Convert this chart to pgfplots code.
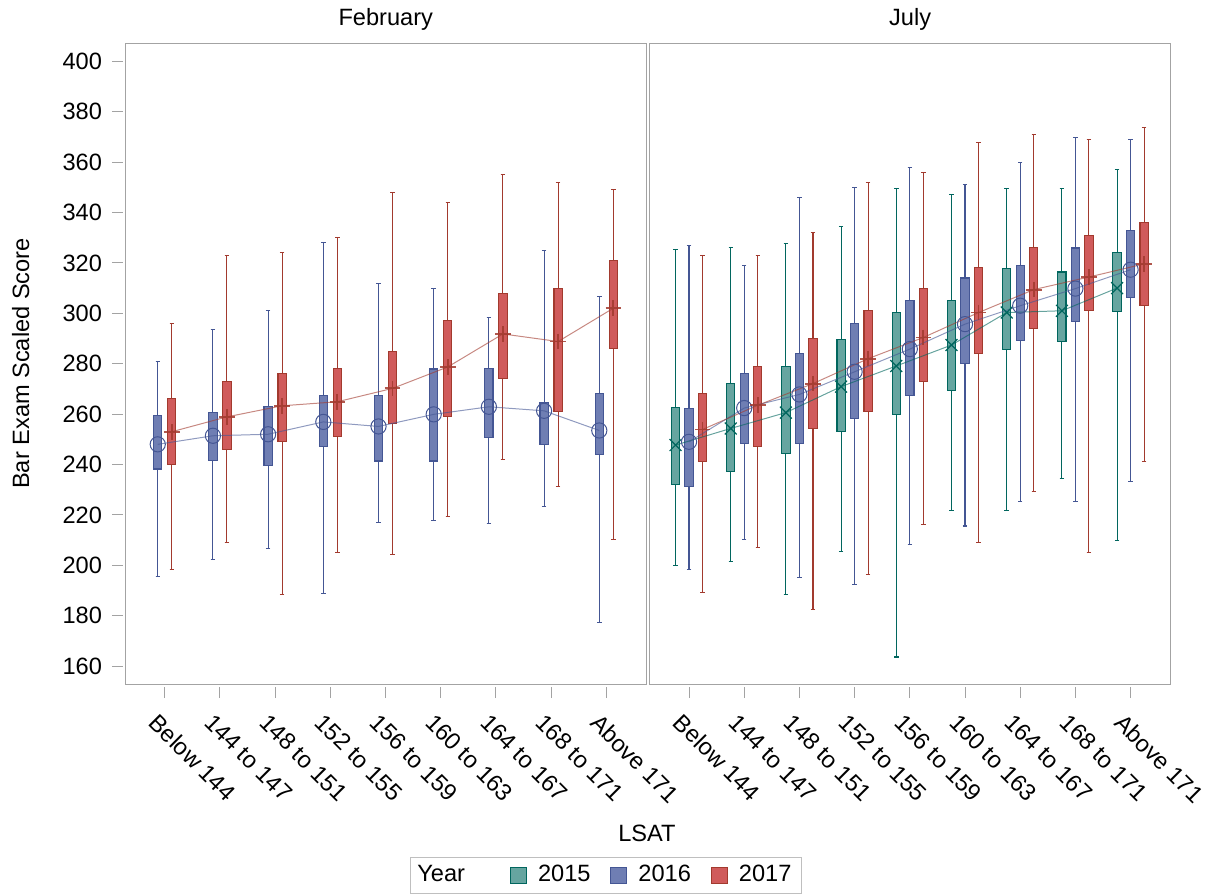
\documentclass[border=0pt]{standalone}
\usepackage{fontspec}
\setmainfont{Liberation Sans}
\usepackage{pgfplots}
\pgfplotsset{compat=1.18}
\usepgfplotslibrary{statistics}

\definecolor{c15f}{HTML}{66A5A0}
\definecolor{c15c}{HTML}{01665E}
\definecolor{c16f}{HTML}{6F7EB3}
\definecolor{c16c}{HTML}{445694}
\definecolor{c17f}{HTML}{D05B5B}
\definecolor{c17c}{HTML}{A23A2E}
\definecolor{frm}{HTML}{A3A3A3}

% #1 year, #2 position, #3 lower whisker, #4 Q1, #5 Q3, #6 upper whisker
\newcommand{\YrBox}[6]{\addplot+[draw=c#1c, fill=c#1f, mark=none, solid, line width=0.55pt, forget plot,
  boxplot/draw direction=y,
  boxplot prepared={draw position=#2, lower whisker=#3, lower quartile=#4,
  median=#4, upper quartile=#5, upper whisker=#6, box extend=0.15, whisker extend=0.08}]
  coordinates {};}

\pgfplotsset{panel/.style={
  scale only axis, width=260.8bp, height=320.35bp,
  xmin=0.28, xmax=9.73, ymin=152.9, ymax=407.14,
  boxplot/draw direction=y,
  axis line style={frm, line width=0.5pt},
  tick style={frm, line width=0.5pt},
  major tick length=5.5bp, tick align=outside,
  xtick={1,...,9},
  xticklabels={Below 144, 144 to 147, 148 to 151, 152 to 155, 156 to 159, 160 to 163, 164 to 167, 168 to 171, Above 171},
  xtick pos=bottom,
  xtick style={yshift=-1.5bp},
  xticklabel style={inner sep=0pt, xshift=-2.5bp, yshift=-8.5bp, rotate=-45, anchor=north west},
  title style={anchor=base, yshift=2.7bp},
  /pgf/number format/assume math mode=true,
}}

\begin{document}
\fontsize{11.8bp}{14bp}\selectfont
\begin{tikzpicture}[font=\fontsize{11.8bp}{14bp}\selectfont]
\path[use as bounding box] (0,0) rectangle (604bp,447.5bp);

\begin{axis}[panel, at={(62.5bp,105.5bp)}, anchor=south west,
  title=February,
  ytick={160,180,...,400}, ytick pos=left,
  ytick style={xshift=-1bp},
  yticklabel style={inner sep=0pt, xshift=-5.8bp}]
% 2016
\YrBox{16}{0.873}{195.6}{238.2}{259.3}{280.7}
\YrBox{16}{1.873}{202.3}{241.7}{260.6}{293.6}
\YrBox{16}{2.873}{206.7}{239.7}{263.1}{301.1}
\YrBox{16}{3.873}{188.9}{247.0}{267.4}{328.0}
\YrBox{16}{4.873}{217.0}{241.4}{267.3}{311.8}
\YrBox{16}{5.873}{217.8}{241.4}{277.9}{309.8}
\YrBox{16}{6.873}{216.6}{250.7}{278.1}{298.3}
\YrBox{16}{7.873}{223.4}{247.8}{264.5}{324.9}
\YrBox{16}{8.873}{177.3}{244.0}{268.0}{306.7}
% 2017
\YrBox{17}{1.127}{198.4}{240.1}{266.2}{296.0}
\YrBox{17}{2.127}{209.1}{246.1}{273.1}{322.9}
\YrBox{17}{3.127}{188.5}{249.1}{276.1}{324.1}
\YrBox{17}{4.127}{205.1}{251.1}{278.1}{330.2}
\YrBox{17}{5.127}{204.3}{256.3}{285.0}{347.9}
\YrBox{17}{6.127}{219.4}{259.2}{297.0}{344.0}
\YrBox{17}{7.127}{242.0}{274.1}{307.8}{355.0}
\YrBox{17}{8.127}{231.3}{261.2}{310.0}{351.9}
\YrBox{17}{9.127}{210.3}{286.0}{320.9}{349.1}
% means
\addplot[c16c, line width=0.5pt, draw opacity=0.6, mark=o, mark size=3.8bp,
  mark options={draw opacity=1}, forget plot] coordinates {
(0.873,248.0) (1.873,251.4) (2.873,252.0) (3.873,256.9) (4.873,255.1)
(5.873,259.9) (6.873,262.9) (7.873,261.3) (8.873,253.5)};
\addplot[c17c, line width=0.5pt, draw opacity=0.6, mark=+, mark size=3.9bp,
  mark options={draw opacity=0.85, line width=0.9pt}, forget plot] coordinates {
(1.127,253.0) (2.127,258.9) (3.127,263.3) (4.127,264.9) (5.127,270.2)
(6.127,278.7) (7.127,291.8) (8.127,288.8) (9.127,302.0)};
\end{axis}

\begin{axis}[panel, at={(324.65bp,105.5bp)}, anchor=south west,
  title=July, ytick=\empty,
  legend columns=4,
  legend style={at={(-0.0832,-0.2989)}, anchor=center, draw=frm!70,
    line width=0.5pt, inner xsep=3bp, inner ysep=2bp,
    /tikz/every even column/.append style={column sep=8bp},
    /tikz/every odd column/.append style={column sep=3.5bp}},
  legend cell align=left]
% 2015
\YrBox{15}{0.755}{200.1}{232.1}{262.5}{325.3}
\YrBox{15}{1.755}{201.6}{237.4}{272.1}{326.1}
\YrBox{15}{2.755}{188.5}{244.2}{278.9}{327.7}
\YrBox{15}{3.755}{205.5}{253.0}{289.6}{334.4}
\YrBox{15}{4.755}{163.6}{259.9}{300.3}{349.5}
\YrBox{15}{5.755}{221.8}{269.2}{305.2}{347.0}
\YrBox{15}{6.755}{221.8}{285.7}{317.6}{349.5}
\YrBox{15}{7.755}{234.5}{288.9}{316.4}{349.5}
\YrBox{15}{8.755}{209.8}{300.8}{324.3}{357.0}
% 2016
\YrBox{16}{1}{198.4}{231.1}{262.1}{326.9}
\YrBox{16}{2}{210.3}{248.2}{276.1}{319.0}
\YrBox{16}{3}{195.2}{248.2}{284.0}{345.9}
\YrBox{16}{4}{192.4}{258.1}{296.0}{349.9}
\YrBox{16}{5}{208.3}{267.3}{305.1}{357.8}
\YrBox{16}{6}{215.6}{280.1}{314.0}{351.2}
\YrBox{16}{7}{225.3}{289.1}{319.0}{359.8}
\YrBox{16}{8}{225.3}{296.9}{325.9}{369.7}
\YrBox{16}{9}{233.2}{306.1}{332.9}{368.9}
% 2017
\YrBox{17}{1.245}{189.3}{241.2}{268.2}{322.9}
\YrBox{17}{2.245}{207.1}{247.2}{279.0}{322.9}
\YrBox{17}{3.245}{182.5}{254.2}{290.0}{332.0}
\YrBox{17}{4.245}{196.5}{261.0}{301.1}{351.9}
\YrBox{17}{5.245}{216.3}{272.9}{310.0}{356.0}
\YrBox{17}{6.245}{209.2}{284.2}{318.1}{367.7}
\YrBox{17}{7.245}{229.2}{293.9}{326.1}{370.9}
\YrBox{17}{8.245}{205.1}{301.2}{330.9}{368.9}
\YrBox{17}{9.245}{241.3}{303.0}{335.9}{373.6}
% means
\addplot[c15c, line width=0.5pt, draw opacity=0.6, mark=x, mark size=4.2bp,
  mark options={draw opacity=1, line width=0.6pt}, forget plot] coordinates {
(0.755,247.7) (1.755,254.3) (2.755,260.6) (3.755,270.9) (4.755,279.1)
(5.755,287.4) (6.755,300.3) (7.755,301.0) (8.755,310.0)};
\addplot[c16c, line width=0.5pt, draw opacity=0.6, mark=o, mark size=3.8bp,
  mark options={draw opacity=1}, forget plot] coordinates {
(1,249.0) (2,262.4) (3,267.8) (4,276.8) (5,285.8)
(6,295.7) (7,303.0) (8,309.8) (9,317.3)};
\addplot[c17c, line width=0.5pt, draw opacity=0.6, mark=+, mark size=3.9bp,
  mark options={draw opacity=0.85, line width=0.9pt}, forget plot] coordinates {
(1.245,253.9) (2.245,263.5) (3.245,272.1) (4.245,282.0) (5.245,290.4)
(6.245,300.3) (7.245,309.4) (8.245,314.4) (9.245,319.6)};
% legend
\addlegendimage{empty legend}
\addlegendentry{\hspace*{-5bp}Year\rule{12.5bp}{0pt}}
\addlegendimage{legend image code/.code={\draw[draw=c15c, fill=c15f, line width=0.5pt] (0bp,-4bp) rectangle (8bp,4bp);}}
\addlegendentry{2015}
\addlegendimage{legend image code/.code={\draw[draw=c16c, fill=c16f, line width=0.5pt] (0bp,-4bp) rectangle (8bp,4bp);}}
\addlegendentry{2016}
\addlegendimage{legend image code/.code={\draw[draw=c17c, fill=c17f, line width=0.5pt] (0bp,-4bp) rectangle (8bp,4bp);}}
\addlegendentry{2017}
\end{axis}

\node[anchor=base] at (323.5bp,27bp) {LSAT};
\node[anchor=base, rotate=90] at (14.5bp,265.75bp) {Bar Exam Scaled Score};
\end{tikzpicture}
\end{document}
